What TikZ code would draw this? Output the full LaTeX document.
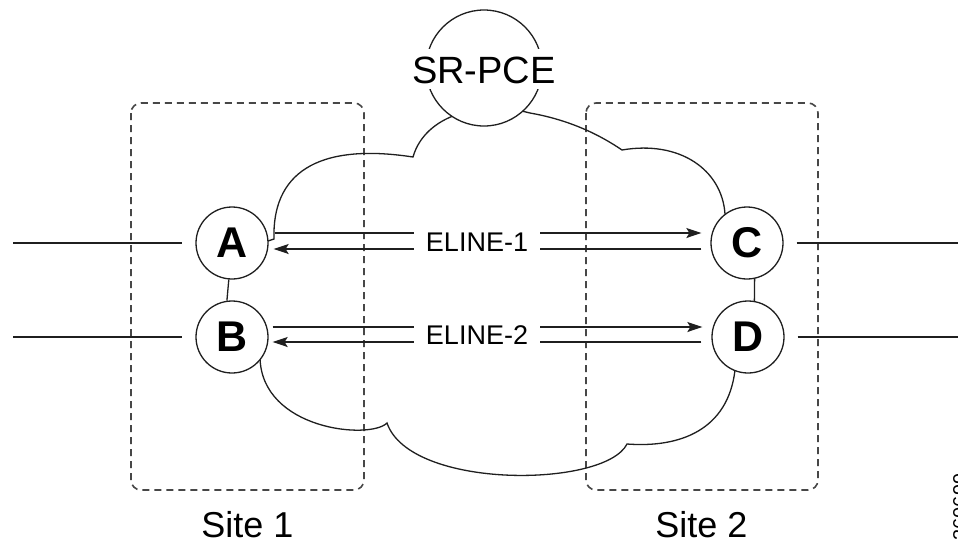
\documentclass[tikz,border=0pt]{standalone}
\usepackage{fontspec}
\setmainfont{Liberation Sans}
\usetikzlibrary{arrows.meta}
\begin{document}
\begin{tikzpicture}[x=1pt,y=-1pt,
  ln/.style={line width=1.3pt, draw=black!88},
  sitebox/.style={draw=black!72, line width=1.6pt, dash pattern=on 7pt off 5pt, rounded corners=10pt},
  router/.style={circle, draw=black!88, line width=1.3pt, fill=white, minimum size=72pt, inner sep=0pt,
     font=\fontsize{43}{43}\selectfont\bfseries},
  elab/.style={fill=white, inner xsep=12pt, inner ysep=2pt, text height=20pt, text depth=0pt,
     font=\fontsize{27}{27}\selectfont},
  sitelab/.style={font=\fontsize{36}{36}\selectfont, text depth=0pt, inner sep=0pt},
  arr/.style={ln, -{Stealth[length=15pt, width=10pt, inset=3pt]}},
]
\useasboundingbox (0,0) rectangle (958,542);
\fill[white] (0,0) rectangle (958,542);

% site boxes
\draw[sitebox] (131,103) rectangle (364,490);
\draw[sitebox] (586,103) rectangle (818,490);

% cloud (upper part: A -> C)
\draw[ln] (268,241) -- (274,239)
  .. controls (272,175) and (315,142) .. (413,157)
  .. controls (425,115) and (480,100) .. (530,113)
  .. controls (570,120) and (600,135) .. (622,150)
  .. controls (680,140) and (722,170) .. (725,214);
% cloud (lower part: D -> B)
\draw[ln] (735,370)
  .. controls (728,430) and (680,448) .. (627,444)
  .. controls (605,488) and (410,490) .. (387,423)
  .. controls (370,440) and (262,430) .. (260,358);

% routers
\node[router] (A) at (232,243) {A};
\node[router] (B) at (232,337) {B};
\node[router] (C) at (747,243) {C};
\node[router] (D) at (748,337) {D};

% links
\draw[ln] (A.265) -- (B.98);
\draw[ln] (C.282) -- (D.80);

% external lines
\coordinate (LA) at (13,243);
\coordinate (LB) at (13,337);
\coordinate (RC) at (958,243);
\coordinate (RD) at (958,337);
\draw[ln, shorten >=13pt] (LA) -- (A.west);
\draw[ln, shorten >=13pt] (LB) -- (B.west);
\draw[ln, shorten <=13pt] (C.east) -- (RC);
\draw[ln, shorten <=13pt] (D.east) -- (RD);

% ELINE arrows
\draw[arr, shorten <=6pt, shorten >=9pt] ([yshift=10pt]A.east) -- ([yshift=10pt]C.west);
\draw[arr, shorten <=9pt, shorten >=5pt] ([yshift=-6pt]C.west) -- ([yshift=-6pt]A.east);
\draw[arr, shorten <=4pt, shorten >=9pt] ([yshift=10pt]B.east) -- ([yshift=10pt]D.west);
\draw[arr, shorten <=10pt, shorten >=4pt] ([yshift=-5pt]D.west) -- ([yshift=-5pt]B.east);
\node[elab] (e1) at (477,241.5) {ELINE-1};
\node[elab] (e2) at (477,334.5) {ELINE-2};

% SR-PCE
\node[circle, draw=black!88, line width=1.3pt, fill=white, minimum size=116pt, inner sep=0pt] (pce) at (484,68) {};
\node[fill=white, inner xsep=1pt, inner ysep=6pt, text height=28pt, text depth=0pt,
  font=\fontsize{38}{38}\selectfont] (pcet) at (484,69) {SR-PCE};

% site labels
\node[sitelab, anchor=base] (s1) at (247.5,537) {Site 1};
\node[sitelab, anchor=base] (s2) at (701.5,537) {Site 2};

% figure number
\node[rotate=90, anchor=base, font=\fontsize{20}{20}\selectfont] (fig) at (967,507) {360699};
\end{tikzpicture}
\end{document}
